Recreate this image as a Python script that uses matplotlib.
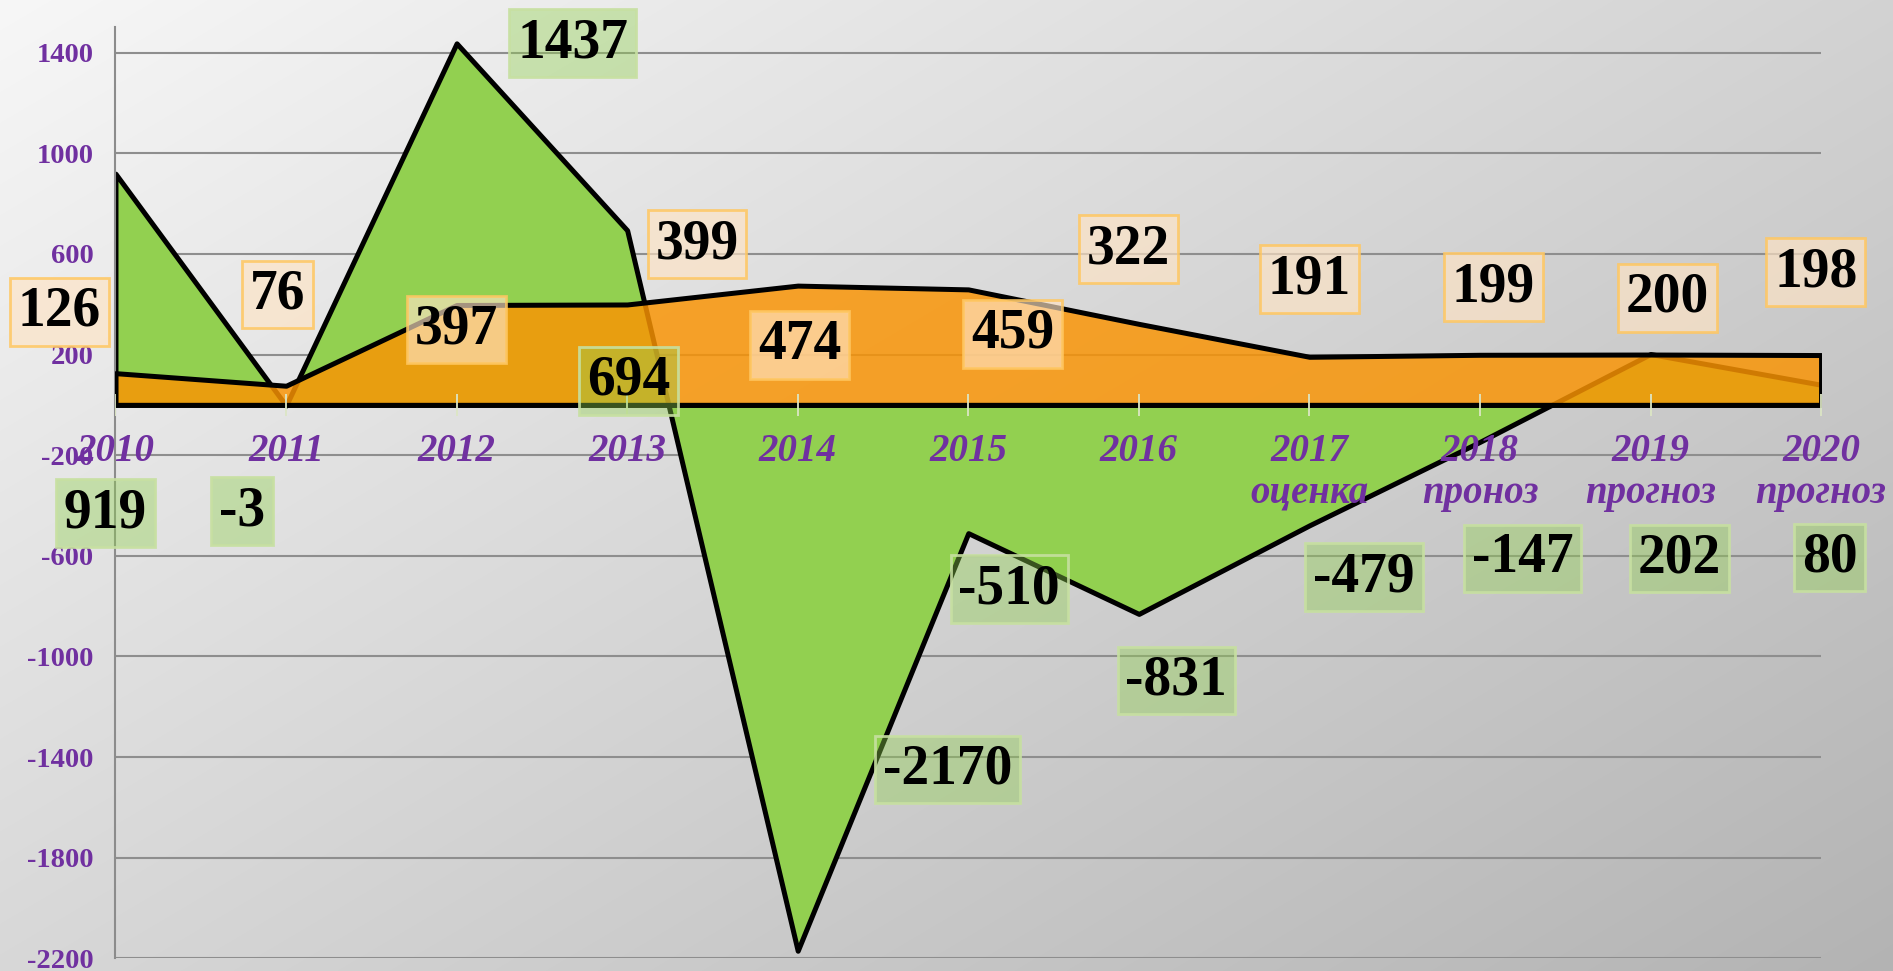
import numpy as np
import matplotlib.pyplot as plt

plt.rcParams["axes.unicode_minus"] = False
plt.rcParams["font.family"] = ["Liberation Serif", "DejaVu Serif"]

years = ["2010", "2011", "2012", "2013", "2014", "2015", "2016",
         "2017\nоценка", "2018\nпроноз", "2019\nпрогноз", "2020\nпрогноз"]
green_values = [919, -3, 1437, 694, -2170, -510, -831, -479, -147, 202, 80]
orange_values = [126, 76, 397, 399, 474, 459, 322, 191, 199, 200, 198]
y_ticks = [-2200, -1800, -1400, -1000, -600, -200, 200, 600, 1000, 1400]

# where the value boxes sit (data coords)
green_lab_x = [-0.06, 0.74, 2.68, 3.01, 4.88, 5.24, 6.22, 7.32, 8.25, 9.17, 10.05]
green_lab_y = [-431, -422, 1438, 95, -1449, -733, -1095, -685, -610, -610, -606]
orange_lab_x = [-0.33, 0.95, 2.0, 3.41, 4.01, 5.26, 5.94, 7.0, 8.08, 9.1, 9.97]
orange_lab_y = [370, 438, 299, 639, 238, 282, 619, 500, 468, 425, 528]

x = np.arange(len(years))

fig = plt.figure(figsize=(18.93, 9.71), dpi=100)

# grey diagonal gradient behind everything
bg = fig.add_axes([0, 0, 1, 1], zorder=-1)
px, py = np.meshgrid(np.arange(1893), np.arange(971))
shade = (247 - 0.0192 * px - 0.0325 * py) / 255.0
bg.imshow(np.dstack([shade] * 3), aspect="auto", extent=[0, 1, 0, 1])
bg.axis("off")

ax = fig.add_axes([0.0610, 0.01308, 0.9010, 0.9586])
ax.set_facecolor("none")
ax.set_xlim(0, 10)
ax.set_ylim(-2200, 1500)

ax.fill_between(x, green_values, 0, facecolor="#92D050", edgecolor="black",
                linewidth=3.6, zorder=2)
ax.fill_between(x, orange_values, 0, facecolor=(0.98, 0.58, 0.01, 0.83),
                edgecolor="black", linewidth=3.6, zorder=3)
ax.axhline(0, color="black", linewidth=2, zorder=4)
ax.plot(x, [0] * len(x), linestyle="none", marker="|", markersize=16,
        markeredgewidth=1.3, color="#DCE6C4", zorder=5)

ax.set_yticks(y_ticks)
ax.set_yticklabels([str(v) for v in y_ticks], color="#7030A0",
                   fontsize=20.5, fontweight="bold")
ax.tick_params(axis="y", length=0, pad=16)
ax.set_xticks([])
ax.yaxis.grid(True, color="#8E8E8E", linewidth=1.5)
ax.set_axisbelow(True)
for s in ["top", "right", "bottom"]:
    ax.spines[s].set_visible(False)
ax.spines["left"].set_color("#8C8C8C")
ax.spines["left"].set_linewidth(1.5)

for i, lab in enumerate(years):
    ax.annotate(lab, (x[i], 0), xytext=(0, -28), textcoords="offset pixels",
                ha="center", va="top", fontsize=28, fontweight="bold",
                fontstyle="italic", color="#7030A0", linespacing=1.2, zorder=6)

for i, v in enumerate(orange_values):
    ax.text(orange_lab_x[i], orange_lab_y[i], str(v), ha="center", va="center",
            fontsize=40, fontweight="bold", color="black", zorder=7,
            bbox=dict(boxstyle="square,pad=0.14", facecolor=(1.0, 0.894, 0.77, 0.65),
                      edgecolor=(1.0, 0.78, 0.38, 0.85), linewidth=2))

for i, v in enumerate(green_values):
    ax.text(green_lab_x[i], green_lab_y[i], str(v), ha="center", va="center",
            fontsize=40, fontweight="bold", color="black", zorder=7,
            bbox=dict(boxstyle="square,pad=0.14", facecolor=(0.57, 0.82, 0.31, 0.4),
                      edgecolor=(0.78, 0.88, 0.63, 0.9), linewidth=2))

fig.savefig("out.png", dpi=100)
